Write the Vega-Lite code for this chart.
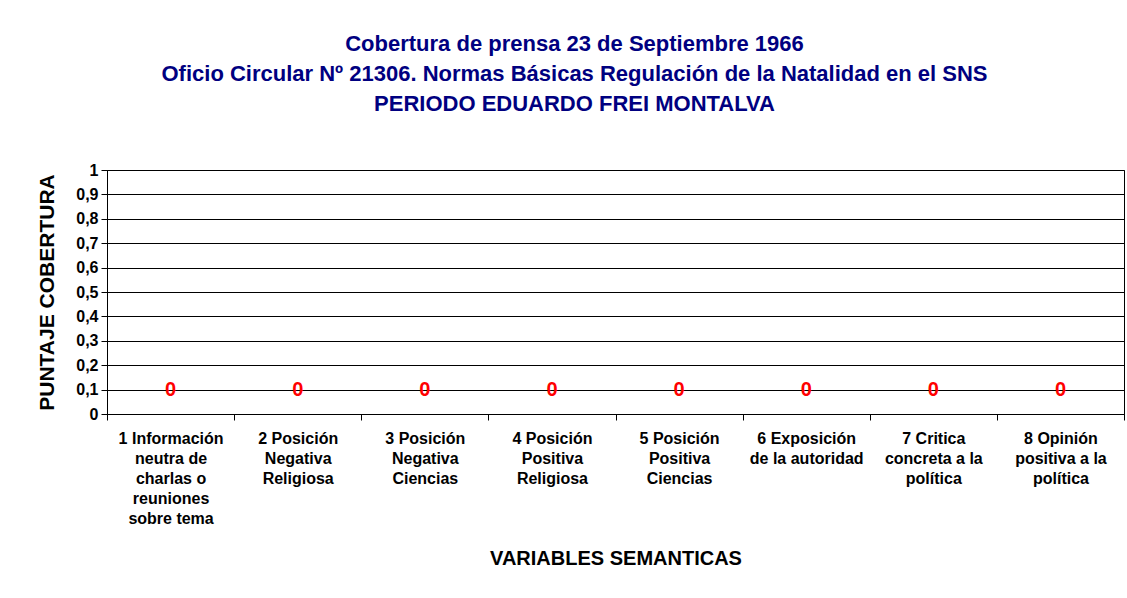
{
  "$schema": "https://vega.github.io/schema/vega-lite/v6.json",
  "width": 1017,
  "height": 244,
  "autosize": {"type": "none"},
  "padding": {"left": 107, "top": 170, "right": 3, "bottom": 184},
  "background": "white",
  "title": {
    "text": ["Cobertura de prensa 23 de Septiembre 1966", "Oficio Circular Nº 21306. Normas Básicas Regulación de la Natalidad en el SNS", "PERIODO EDUARDO FREI MONTALVA"],
    "font": "Liberation Sans",
    "fontSize": 22,
    "fontWeight": "bold",
    "color": "#000080",
    "lineHeight": 30,
    "anchor": "middle",
    "dx": -41,
    "offset": 46
  },
  "data": {
    "values": [
      {"variable": "1 Información|neutra de|charlas  o|reuniones|sobre tema", "puntaje": 0},
      {"variable": "2 Posición|Negativa|Religiosa", "puntaje": 0},
      {"variable": "3 Posición|Negativa|Ciencias", "puntaje": 0},
      {"variable": "4 Posición|Positiva|Religiosa", "puntaje": 0},
      {"variable": "5 Posición|Positiva|Ciencias", "puntaje": 0},
      {"variable": "6 Exposición|de la autoridad", "puntaje": 0},
      {"variable": "7 Critica|concreta a la|política", "puntaje": 0},
      {"variable": "8 Opinión|positiva a la|política", "puntaje": 0}
    ]
  },
  "encoding": {
    "x": {
      "field": "variable",
      "type": "nominal",
      "sort": null,
      "scale": {"paddingInner": 0, "paddingOuter": 0},
      "axis": {
        "title": "VARIABLES SEMANTICAS",
        "titleFont": "Liberation Sans",
        "titleFontSize": 20,
        "titleFontWeight": "bold",
        "titleColor": "black",
        "titlePadding": 22,
        "labelExpr": "datum.value ? split(datum.value, '|') : ''",
        "labelAngle": 0,
        "labelFont": "Liberation Sans",
        "labelFontSize": 16,
        "labelFontWeight": "bold",
        "labelColor": "black",
        "labelLineHeight": 20,
        "labelPadding": 10,
        "labelBaseline": "top",
        "tickBand": "extent",
        "tickSize": 6,
        "tickColor": "black",
        "domainColor": "black",
        "grid": false,
        "labelLimit": 200
      }
    },
    "y": {
      "field": "puntaje",
      "type": "quantitative",
      "scale": {"domain": [0, 1], "nice": false},
      "axis": {
        "title": "PUNTAJE COBERTURA",
        "titleFont": "Liberation Sans",
        "titleFontSize": 21,
        "titleFontWeight": "bold",
        "titleColor": "black",
        "titlePadding": 18,
        "values": [0, 0.1, 0.2, 0.3, 0.4, 0.5, 0.6, 0.7, 0.8, 0.9, 1],
        "labelExpr": "replace(format(datum.value, '.1~f'), '.', ',')",
        "labelFont": "Liberation Sans",
        "labelFontSize": 16,
        "labelFontWeight": "bold",
        "labelColor": "black",
        "labelPadding": 3,
        "tickSize": 6,
        "tickColor": "black",
        "domainColor": "black",
        "grid": true,
        "gridColor": "black",
        "gridOpacity": 1
      }
    }
  },
  "layer": [
    {
      "mark": {"type": "bar", "color": "#9999ff"}
    },
    {
      "mark": {"type": "text", "color": "#ff0000", "font": "Liberation Sans", "fontSize": 20, "fontWeight": "bold", "dy": -24, "baseline": "middle"},
      "encoding": {"text": {"field": "puntaje", "type": "quantitative"}}
    }
  ],
  "config": {
    "view": {"stroke": "black", "strokeWidth": 1}
  }
}
